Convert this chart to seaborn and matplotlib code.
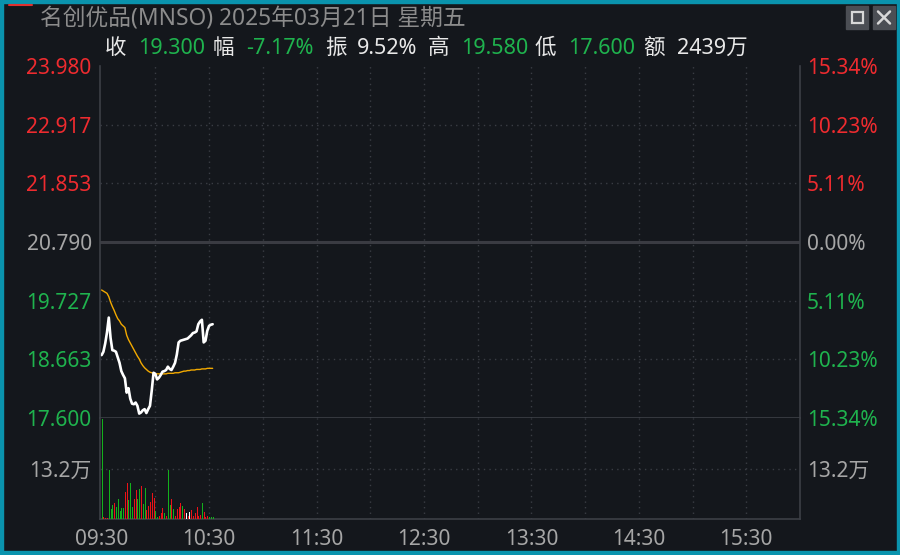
import numpy as np
import pandas as pd
import matplotlib
matplotlib.use("Agg")
import matplotlib.pyplot as plt
import seaborn as sns
from matplotlib.patches import Rectangle
from matplotlib.lines import Line2D

# ---------------- data ----------------
title_text = "名创优品(MNSO) 2025年03月21日 星期五"
prev_close = 20.790
price_ticks = [23.980, 22.917, 21.853, 20.790, 19.727, 18.663, 17.600]
pct_labels = ["15.34%", "10.23%", "5.11%", "0.00%", "5.11%", "10.23%", "15.34%"]
time_labels = ["09:30", "10:30", "11:30", "12:30", "13:30", "14:30", "15:30"]
vol_tick = 13.2  # 万
vol_max = 26.4

price = [18.74, 18.80, 18.95, 19.15, 19.42, 19.05, 18.83, 18.82, 18.80, 18.70,
         18.60, 18.45, 18.38, 18.32, 18.06, 18.14, 17.95, 17.86, 17.85, 17.88,
         17.82, 17.68, 17.70, 17.74, 17.76, 17.69, 17.76, 17.82, 18.10, 18.42,
         18.40, 18.30, 18.33, 18.38, 18.44, 18.45, 18.47, 18.53, 18.49, 18.47,
         18.53, 18.60, 18.75, 18.97, 19.00, 19.01, 19.02, 19.03, 19.04, 19.07,
         19.10, 19.14, 19.15, 19.17, 19.30, 19.35, 19.38, 18.97, 19.00, 19.18,
         19.27, 19.29, 19.30]
avg_price = [19.92, 19.90, 19.88, 19.86, 19.80, 19.70, 19.62, 19.55, 19.47, 19.40,
             19.36, 19.30, 19.27, 19.24, 19.10, 19.02, 18.96, 18.90, 18.84, 18.78,
             18.72, 18.67, 18.60, 18.55, 18.51, 18.48, 18.45, 18.43, 18.42, 18.41,
             18.40, 18.40, 18.40, 18.40, 18.40, 18.40, 18.40, 18.41, 18.41, 18.41,
             18.41, 18.42, 18.42, 18.42, 18.43, 18.44, 18.45, 18.45, 18.46, 18.46,
             18.47, 18.47, 18.47, 18.48, 18.48, 18.48, 18.49, 18.49, 18.49, 18.50,
             18.50, 18.50, 18.50]
volume = [26.1, 0.5, 0.3, 0.3, 12.7, 2.6, 3.7, 4.2, 3.2, 5.3,
          2.1, 2.9, 2.9, 7.1, 9.5, 5.0, 9.5, 3.2, 5.3, 7.7,
          5.3, 7.9, 8.7, 4.0, 8.2, 2.4, 3.4, 4.5, 6.9, 5.5,
          2.1, 0.5, 0.8, 1.6, 2.9, 1.6, 0.8, 12.9, 3.7, 5.3,
          2.6, 0.8, 2.6, 3.2, 4.2, 3.4, 2.6, 1.6, 0.8, 1.8,
          2.4, 0.8, 1.6, 3.2, 0.8, 1.1, 4.2, 1.8, 0.5, 0.8,
          0.5, 0.5, 0.5]
direction = ["d", "u", "u", "u", "d", "d", "d", "u", "d", "d",
             "d", "d", "d", "u", "u", "d", "d", "d", "u", "u",
             "d", "d", "u", "d", "d", "u", "u", "u", "u", "u",
             "d", "d", "u", "u", "u", "d", "u", "d", "d", "u",
             "d", "u", "u", "u", "u", "d", "u", "f", "u", "f",
             "u", "u", "u", "u", "u", "u", "d", "u", "u", "u",
             "d", "d", "d"]

# ---------------- style ----------------
BG = "#14171c"
GRID = "#3a3d44"
SPINE = "#3c3f46"
RED = "#ee2b2f"
GREEN = "#1fb34e"
GRAY = "#a6a6a6"
TEAL = "#0a93ad"
BAR_RED = "#ec1218"
BAR_GREEN = "#13b01c"

sns.set_theme(style="dark")
plt.rcParams["font.family"] = ["Noto Sans", "Noto Sans CJK SC", "DejaVu Sans"]
FS = 15
HFS = 15.5

W, H = 900, 555
fig = plt.figure(figsize=(9, 5.55), dpi=100, facecolor=BG)

def fx(px):
    return px / W

def fy(py):
    return 1 - py / H

df = pd.DataFrame({"minute": np.arange(len(price)), "price": price,
                   "avg": avg_price, "volume": volume, "dir": direction})

ax_p = fig.add_axes([fx(100), fy(418), fx(800) - fx(100), fy(66) - fy(418)])
ax_v = fig.add_axes([fx(100), fy(519), fx(800) - fx(100), fy(418) - fy(519)])

for ax in (ax_p, ax_v):
    ax.set_facecolor(BG)
    ax.set_xlim(-0.9, 390)
    ax.grid(False)
    for s in ax.spines.values():
        s.set_color(SPINE)
        s.set_linewidth(1.2)
    ax.spines["top"].set_visible(False)
    for xv in range(30, 390, 30):
        ax.axvline(xv, color=GRID, lw=1, ls=(0, (1, 3)), zorder=0)

# price pane
ax_p.set_ylim(price_ticks[-1], price_ticks[0])
for yv in price_ticks[1:-1]:
    if abs(yv - prev_close) < 1e-6:
        ax_p.axhline(yv, color="#3a3b42", lw=2.2, zorder=0)
    else:
        ax_p.axhline(yv, color=GRID, lw=1, ls=(0, (1, 3)), zorder=0)

sns.lineplot(data=df, x="minute", y="avg", ax=ax_p, color="#f2a900", lw=1.0)
sns.lineplot(data=df, x="minute", y="price", ax=ax_p, color="white", lw=1.9)
ax_p.set_xlabel("")
ax_p.set_ylabel("")
ax_p.set_xticks([])
ax_p.set_yticks(price_ticks)
ax_p.set_yticklabels([f"{v:.3f}" for v in price_ticks])
ax_p.tick_params(axis="y", length=0, pad=6, labelsize=FS)

def level_color(v):
    if v > prev_close + 1e-6:
        return RED
    if v < prev_close - 1e-6:
        return GREEN
    return GRAY

for lab, v in zip(ax_p.get_yticklabels(), price_ticks):
    lab.set_color(level_color(v))

ax_pr = ax_p.twinx()
ax_pr.set_ylim(ax_p.get_ylim())
ax_pr.set_yticks(price_ticks)
ax_pr.set_yticklabels(pct_labels)
ax_pr.tick_params(axis="y", length=0, pad=5, labelsize=FS)
ax_pr.grid(False)
for s in ax_pr.spines.values():
    s.set_visible(False)
for lab, v in zip(ax_pr.get_yticklabels(), price_ticks):
    lab.set_color(level_color(v))

# volume pane
color_map = {"u": BAR_RED, "d": BAR_GREEN, "f": "white"}
bar_colors = [color_map[d] for d in df["dir"]]
ax_v.vlines(df["minute"], 0, df["volume"], colors=bar_colors, linewidth=0.6,
            antialiased=False, zorder=3)
ax_v.set_ylim(0, vol_max)
ax_v.axhline(vol_tick, color=GRID, lw=1, ls=(0, (1, 3)), zorder=0)
ax_v.set_yticks([vol_tick])
ax_v.set_yticklabels([f"{vol_tick}万"])
ax_v.tick_params(axis="y", length=0, pad=6, labelsize=FS, labelcolor=GRAY)
ax_v.set_xticks(range(0, 361, 60))
ax_v.set_xticklabels(time_labels)
ax_v.tick_params(axis="x", length=0, pad=7, labelsize=FS, labelcolor=GRAY)
ax_v.set_ylabel("")

ax_vr = ax_v.twinx()
ax_vr.set_ylim(0, vol_max)
ax_vr.set_yticks([vol_tick])
ax_vr.set_yticklabels([f"{vol_tick}万"])
ax_vr.tick_params(axis="y", length=0, pad=5, labelsize=FS, labelcolor=GRAY)
ax_vr.grid(False)
for s in ax_vr.spines.values():
    s.set_visible(False)

# title
fig.text(fx(40), fy(18), title_text, color="#8c8c8c", fontsize=16.4,
         va="center", ha="left")

# header stats
header = [
    (105, "收", "#e8e8e8"), (138, "19.300", GREEN),
    (213, "幅", "#e8e8e8"), (246, "-7.17%", GREEN),
    (325, "振", "#e8e8e8"), (357, "9.52%", "#e8e8e8"),
    (428, "高", "#e8e8e8"), (461, "19.580", GREEN),
    (535, "低", "#e8e8e8"), (568, "17.600", GREEN),
    (643, "额", "#e8e8e8"), (677, "2439万", "#e8e8e8"),
]
for xp, txt, col in header:
    fig.text(fx(xp), fy(48), txt, color=col, fontsize=HFS, va="center", ha="left")

# window frame
fig.patches.append(Rectangle((0, 0), fx(3), 1, transform=fig.transFigure,
                             color=TEAL, zorder=10))
fig.patches.append(Rectangle((0, fy(3)), 1, 1 - fy(3), transform=fig.transFigure,
                             color=TEAL, zorder=10))
fig.patches.append(Rectangle((0, 0), 1, fy(551), transform=fig.transFigure,
                             color=TEAL, zorder=10))
fig.patches.append(Rectangle((fx(897), 0), 1 - fx(897), 1, transform=fig.transFigure,
                             color=TEAL, zorder=10))
fig.lines.append(Line2D([fx(9), fx(32)], [fy(4.5), fy(4.5)], transform=fig.transFigure,
                        color="#e03030", lw=1.5, zorder=11))

# window buttons
for x0 in (846, 873):
    fig.patches.append(Rectangle((fx(x0), fy(29)), fx(22), fy(6) - fy(29),
                                 transform=fig.transFigure, color="#4b4e54", zorder=10))
fig.patches.append(Rectangle((fx(851.5), fy(23)), fx(11), fy(12) - fy(23),
                             transform=fig.transFigure, fill=False, ec="#d8d8d8",
                             lw=1.6, zorder=11))
fig.lines.append(Line2D([fx(878), fx(890)], [fy(11.5), fy(23.5)], transform=fig.transFigure,
                        color="#d8d8d8", lw=1.8, zorder=11))
fig.lines.append(Line2D([fx(878), fx(890)], [fy(23.5), fy(11.5)], transform=fig.transFigure,
                        color="#d8d8d8", lw=1.8, zorder=11))

fig.savefig("out.png", dpi=100, facecolor=BG)
